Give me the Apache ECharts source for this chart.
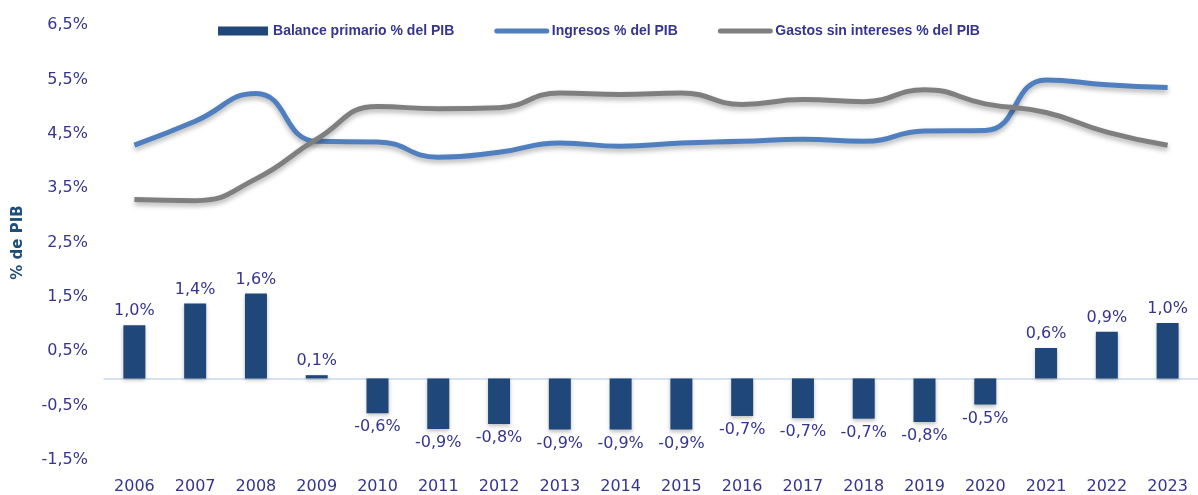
<!DOCTYPE html>
<html>
	<head>
		<meta charset="UTF-8">
		<title>Balance primario</title>
		<script src="https://cdn.jsdelivr.net/npm/echarts@6/dist/echarts.min.js"></script>
		<style type="text/css">
			html, body { margin: 0; padding: 0; background: #fff; }
			#chart { width: 1198px; height: 495px; }
		</style>
	</head>
	<body>
		<div id="chart"></div>
		<script type="text/javascript">
			// datos
			var years = ['2006', '2007', '2008', '2009', '2010', '2011', '2012', '2013', '2014',
				'2015', '2016', '2017', '2018', '2019', '2020', '2021', '2022', '2023'];
			var balance = [0.98, 1.38, 1.56, 0.06, -0.64, -0.93, -0.84, -0.94, -0.94,
				-0.94, -0.69, -0.73, -0.74, -0.8, -0.48, 0.56, 0.86, 1.02];
			var ingresos = [4.29, 4.73, 5.24, 4.36, 4.35, 4.07, 4.16, 4.33, 4.27,
				4.33, 4.36, 4.40, 4.36, 4.55, 4.56, 5.49, 5.40, 5.35];
			var gastos = [3.29, 3.27, 3.67, 4.40, 5.00, 4.96, 4.98, 5.25, 5.22,
				5.25, 5.04, 5.13, 5.09, 5.31, 5.05, 4.89, 4.53, 4.29];
			var seriesNames = ['Balance primario % del PIB', 'Ingresos % del PIB', 'Gastos sin intereses % del PIB'];

			var txtColor = '#35358f';
			var fmt = function(v) { return v.toFixed(1).replace('.', ',') + '%'; };

			var myChart = echarts.init(document.getElementById('chart'));
			var option = {
				animation: false,
				legend: {
					top: 19,
					left: 'center',
					itemGap: 40,
					itemWidth: 50,
					itemHeight: 9,
					textStyle: {
						color: txtColor,
						fontFamily: 'Liberation Sans',
						fontWeight: 'bold',
						fontSize: 14
					},
					data: [
						{ name: seriesNames[0], icon: 'rect' },
						{ name: seriesNames[1], itemStyle: { opacity: 0 }, lineStyle: { width: 5, cap: 'round' } },
						{ name: seriesNames[2], itemStyle: { opacity: 0 }, lineStyle: { width: 5, cap: 'round' } }
					]
				},
				grid: { left: 104, right: 0, top: 25, bottom: 29 },
				xAxis: {
					type: 'category',
					data: years,
					axisLine: { onZero: true, lineStyle: { color: '#c9d8ee', width: 1.5 } },
					axisTick: { show: false },
					axisLabel: {
						interval: 0,
						color: txtColor,
						fontFamily: 'DejaVu Sans',
						fontSize: 16,
						margin: 0,
						formatter: function(v) { return '{a|' + v + '}'; },
						rich: { a: { color: txtColor, fontFamily: 'DejaVu Sans', fontSize: 16, padding: [19, 0, 0, 0] } }
					}
				},
				yAxis: {
					type: 'value',
					min: -1.5,
					max: 6.5,
					interval: 1,
					name: '% de PIB',
					nameLocation: 'middle',
					nameGap: 78,
					nameRotate: 90,
					nameTextStyle: {
						color: '#1f4e79',
						fontFamily: 'DejaVu Sans',
						fontWeight: 'bold',
						fontSize: 15
					},
					splitLine: { show: false },
					axisLine: { show: false },
					axisTick: { show: false },
					axisLabel: {
						color: txtColor,
						fontFamily: 'DejaVu Sans',
						fontSize: 16,
						margin: 16,
						formatter: function(v) { return fmt(v); }
					}
				},
				series: [{
					name: seriesNames[0],
					type: 'bar',
					barWidth: 22,
					itemStyle: {
						color: '#1f477a',
						shadowColor: 'rgba(0,0,0,0.25)',
						shadowBlur: 4,
						shadowOffsetY: 2
					},
					label: {
						show: true,
						color: txtColor,
						fontFamily: 'DejaVu Sans',
						fontSize: 16,
						distance: 6,
						formatter: function(p) { return fmt(p.value); }
					},
					data: balance.map(function(v) {
						return { value: v, label: { position: v < 0 ? 'bottom' : 'top' } };
					})
				}, {
					name: seriesNames[1],
					type: 'line',
					smooth: 0.5,
					symbol: 'none',
					lineStyle: {
						color: '#4f7fbe',
						width: 5,
						shadowColor: 'rgba(0,0,0,0.3)',
						shadowBlur: 5,
						shadowOffsetY: 3
					},
					itemStyle: { color: '#4f7fbe' },
					data: ingresos
				}, {
					name: seriesNames[2],
					type: 'line',
					smooth: 0.5,
					symbol: 'none',
					lineStyle: {
						color: '#7f7f7f',
						width: 5,
						shadowColor: 'rgba(0,0,0,0.3)',
						shadowBlur: 5,
						shadowOffsetY: 3
					},
					itemStyle: { color: '#7f7f7f' },
					data: gastos
				}]
			};
			myChart.setOption(option);
		</script>
	</body>
</html>
